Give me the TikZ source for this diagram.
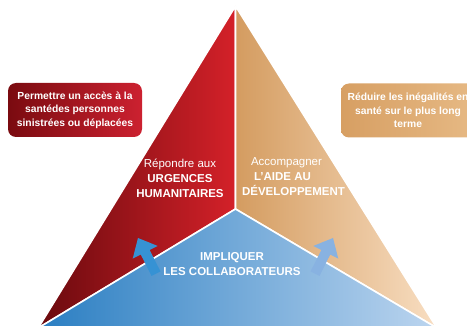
\documentclass[tikz,border=0pt]{standalone}
\usepackage{fontspec}
\setmainfont{Liberation Sans}
\definecolor{redD}{HTML}{6A0A0E}
\definecolor{redL}{HTML}{D42129}
\definecolor{orD}{HTML}{D49C60}
\definecolor{orL}{HTML}{F8DEC2}
\definecolor{blL}{HTML}{2A7EC2}
\definecolor{blM}{HTML}{6CA2D6}
\definecolor{blR}{HTML}{BCD5EF}
\definecolor{boxRedL}{HTML}{7A0B10}
\definecolor{boxRedR}{HTML}{CC2130}
\definecolor{boxOrL}{HTML}{D79F63}
\definecolor{boxOrR}{HTML}{E6B984}
\definecolor{arrowL}{HTML}{3692D4}
\definecolor{arrowR}{HTML}{88B2E1}
\begin{document}
\begin{tikzpicture}[x=1pt,y=-1pt,
  region/.style={draw=white, line width=1.6pt, line join=round},
  label/.style={text=white, inner sep=0pt, anchor=base, font=\fontsize{11.5}{15}\selectfont},
  caps/.style={label, font=\fontsize{11.5}{15}\selectfont\bfseries},
  block/.style={text=white, inner sep=0pt, align=center, font=\fontsize{11.5}{15}\selectfont},
  goalbox/.style={rounded corners=8pt, minimum width=134pt, minimum height=54pt,
    inner sep=0pt, text=white, align=center, font=\fontsize{10.3}{13.5}\selectfont\bfseries}]
\useasboundingbox (0,0) rectangle (467,326);
\clip (0,0) rectangle (467,326);

% corners of the pyramid and the point where the three faces meet
\coordinate (apex) at (235.5,6);
\coordinate (hub) at (235.5,209);
\coordinate (bl) at (38.2,328);
\coordinate (br) at (436.9,328);

% the three faces
\shadedraw[region, left color=redD, right color=redL] (apex) -- (hub) -- (bl) -- cycle;
\shadedraw[region, left color=orD, right color=orL] (apex) -- (br) -- (hub) -- cycle;
\shadedraw[region, left color=blL, middle color=blM, right color=blR] (hub) -- (br) -- (bl) -- cycle;

% arrows rising from the base into the two upper faces
\begin{scope}[shift={(138,238)}, rotate=116.8]
  \fill[arrowL] (0,0) -- (-16,14) -- (-16,5) -- (-40,5) -- (-40,-5) -- (-16,-5) -- (-16,-14) -- cycle;
\end{scope}
\begin{scope}[shift={(333,238)}, rotate=63.2]
  \fill[arrowR] (0,0) -- (-16,14) -- (-16,5) -- (-40,5) -- (-40,-5) -- (-16,-5) -- (-16,-14) -- cycle;
\end{scope}

% goal boxes
\node[goalbox, left color=boxRedL, right color=boxRedR] (acces) at (75,110)
  {Permettre un accès à la\\santédes personnes\\sinistrées ou déplacées};
\node[goalbox, left color=boxOrL, right color=boxOrR] (inegal) at (408,110.5)
  {Réduire les inégalités en\\santé sur le plus long\\terme};

% face labels
\node[block] (urgences) at (180,178.5)
  {Répondre aux\\\textbf{URGENCES}\\\textbf{HUMANITAIRES}};
\node[label] (accomp) at (286.5,166) {Accompagner};
\node[caps] (aide) at (282.5,181) {L'AIDE AU};
\node[caps] (devel) at (293.5,196) {DÉVELOPPEMENT};
\node[block, font=\fontsize{11.5}{15}\selectfont\bfseries] (impliquer) at (232,264.4)
  {IMPLIQUER\\LES COLLABORATEURS};
\end{tikzpicture}
\end{document}
